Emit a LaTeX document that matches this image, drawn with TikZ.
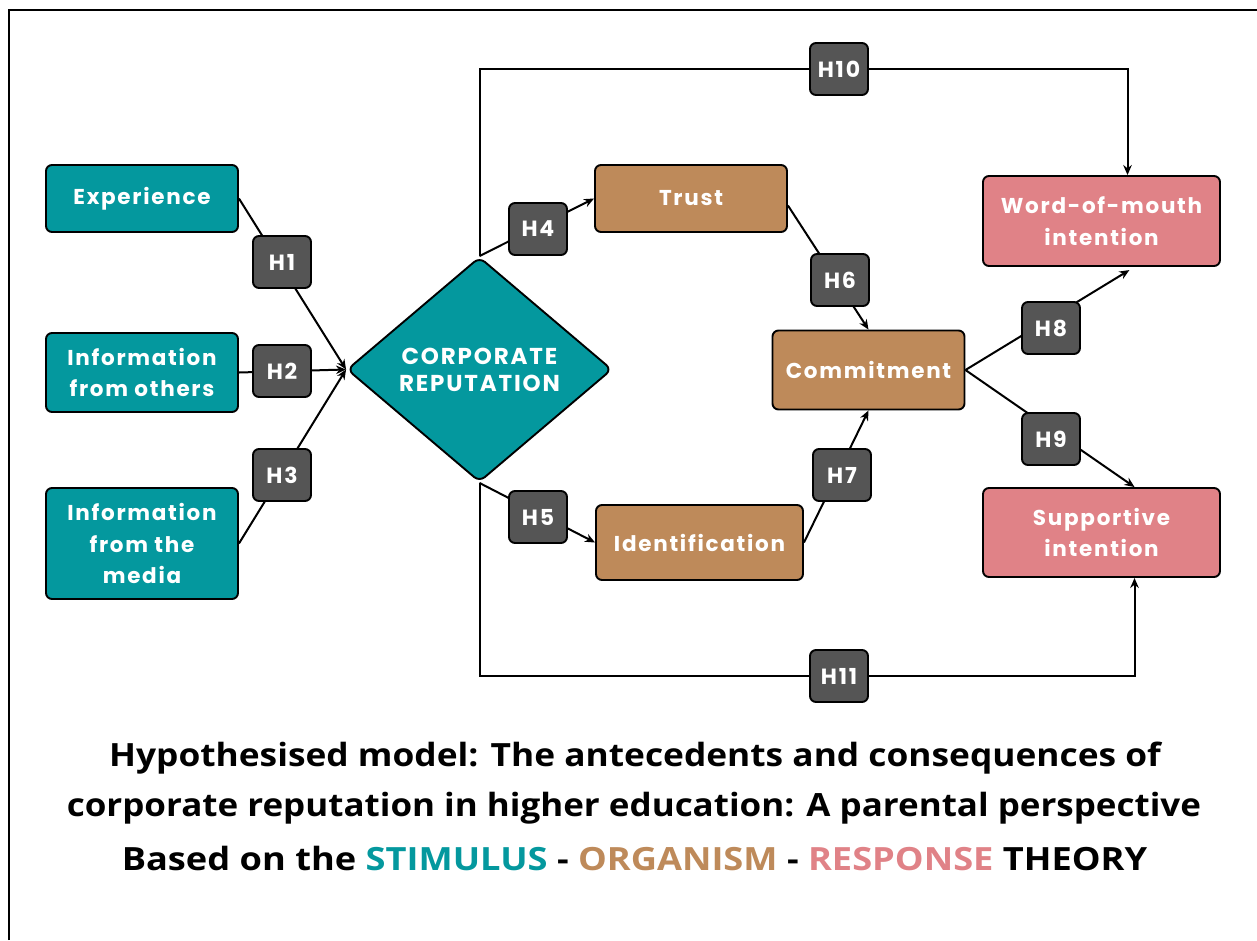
\documentclass[tikz,border=0pt]{standalone}
\usepackage{graphicx}
\usepackage{fontspec}
\setmainfont{Poppins}
\newfontfamily\boxfont[LetterSpace=8]{Poppins}
\newfontfamily\titlefont{Open Sans}
\usetikzlibrary{arrows.meta,shapes.geometric,backgrounds}

\definecolor{stimcol}{HTML}{04989E}
\definecolor{orgcol}{HTML}{BE8A5A}
\definecolor{respcol}{HTML}{E08287}
\definecolor{hypcol}{HTML}{555555}

\tikzset{
  boxbase/.style={draw=black, line width=1.9pt, rounded corners=6pt, text=white,
    font=\boxfont\bfseries\fontsize{21.5}{31.5}\selectfont, align=center, inner sep=0pt},
  stimbox/.style={boxbase, fill=stimcol},
  orgbox/.style={boxbase, fill=orgcol},
  respbox/.style={boxbase, fill=respcol},
  hypbox/.style={boxbase, fill=hypcol, minimum width=58pt, minimum height=52pt,
    font=\boxfont\bfseries\fontsize{22}{24}\selectfont},
  conn/.style={draw=black, line width=2pt},
  arr/.style={conn, -{Stealth[length=10pt,width=8.5pt]}},
  titleline/.style={font=\titlefont\bfseries\fontsize{32}{38}\selectfont, inner sep=0pt}
}

\begin{document}
\begin{tikzpicture}[x=1pt, y=-1pt]
\useasboundingbox (0,0) rectangle (1257,940);
\draw[line width=2pt] (9,940) -- (9,10) -- (1257,10);

% stimulus constructs
\node[stimbox, minimum width=192pt, minimum height=67pt] (exp) at (142,198.5) {Experience};
\node[stimbox, minimum width=192pt, minimum height=79pt] (oth) at (142,372.5) {Information\\from others};
\node[stimbox, minimum width=192pt, minimum height=111pt] (med) at (142,543.5) {Information\\from the\\media};

% central construct
\node[diamond, draw=black, line width=1.9pt, fill=stimcol, rounded corners=7pt,
      minimum width=265pt, minimum height=225pt, inner sep=0pt, text=white, align=center,
      font=\boxfont\bfseries\fontsize{23}{27}\selectfont] (cr) at (479.5,369.5) {CORPORATE\\REPUTATION};

% organism constructs
\node[orgbox, minimum width=192pt, minimum height=67pt] (tru) at (691,198.5) {Trust};
\node[orgbox, minimum width=192pt, minimum height=79pt] (com) at (868.5,370) {Commitment};
\node[orgbox, minimum width=207pt, minimum height=75pt] (ide) at (699.5,542.5) {Identification};

% response constructs
\node[respbox, minimum width=237pt, minimum height=90pt] (wom) at (1101.5,221) {Word-of-mouth\\intention};
\node[respbox, minimum width=237pt, minimum height=89pt] (sup) at (1101.5,532.5) {Supportive\\intention};

% hypothesis labels
\node[hypbox] (h1) at (282,262) {H1};
\node[hypbox] (h2) at (282,371) {H2};
\node[hypbox] (h3) at (282,475) {H3};
\node[hypbox] (h4) at (538,229) {H4};
\node[hypbox] (h5) at (538,517) {H5};
\node[hypbox] (h6) at (840,280) {H6};
\node[hypbox] (h7) at (842,475) {H7};
\node[hypbox] (h8) at (1051,328) {H8};
\node[hypbox] (h9) at (1051,439) {H9};
\node[hypbox] (h10) at (839,69) {H10};
\node[hypbox] (h11) at (839,676) {H11};

\coordinate (womin) at ([xshift=26pt]wom.north);
\coordinate (supin) at ([xshift=33pt]sup.south);

\begin{pgfonlayer}{background}
  \draw[arr] (exp.east) -- (cr.west);
  \draw[arr] (oth.east) -- (cr.west);
  \draw[arr] (med.east) -- (cr.west);
  \draw[arr] (cr.north) -- (tru.west);
  \draw[arr] (cr.south) -- (ide.west);
  \draw[arr] ([yshift=-7pt]tru.east) -- (com.north);
  \draw[arr] (ide.east) -- (com.south);
  \draw[arr, shorten >=6pt] (com.east) -- ([xshift=33pt]wom.south);
  \draw[arr] (com.east) -- ([xshift=33pt]sup.north);
  \draw[arr] (cr.north) |- (h10.center) -| (womin);
  \draw[arr] (cr.south) |- (h11.center) -| (supin);
\end{pgfonlayer}

% caption
\node[titleline] (t1) at (635,758) {\scalebox{1.103}[1]{Hypothesised model: The antecedents and consequences of}};
\node[titleline] (t2) at (634,808) {\scalebox{1.093}[1]{corporate reputation in higher education: A parental perspective}};
\node[titleline] (t3) at (634.5,858) {\scalebox{1.132}[1]{Based on the \textcolor{stimcol}{STIMULUS} - \textcolor{orgcol}{ORGANISM} - \textcolor{respcol}{RESPONSE} THEORY}};
\end{tikzpicture}
\end{document}
